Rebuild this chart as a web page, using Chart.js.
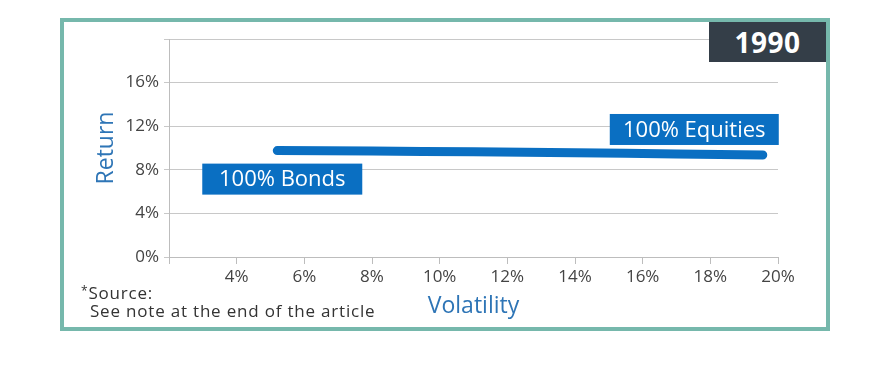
<!DOCTYPE html>
<html>
<head>
<meta charset="utf-8">
<script src="https://cdn.jsdelivr.net/npm/chart.js@4.4.0/dist/chart.umd.min.js"></script>
<style>
  html, body { margin: 0; padding: 0; background: #fff; }
  #wrap { position: relative; width: 890px; height: 367px; overflow: hidden; font-family: "Open Sans", sans-serif; }
  #myChart { position: absolute; left: 0; top: 0; }
  .frame { position: absolute; left: 60px; top: 18px; width: 762px; height: 305px; border: 4px solid #76b8ac; }
  .year { position: absolute; left: 709px; top: 22px; width: 117px; height: 40px; background: #343e48; color: #fff;
          font: bold 28px "Open Sans", sans-serif; line-height: 40px; text-align: center; letter-spacing: 0.5px; }
  .src { position: absolute; color: #333; font-size: 17px; letter-spacing: 0.8px; white-space: nowrap; }
</style>
</head>
<body>
<div id="wrap">
  <canvas id="myChart" width="890" height="367"></canvas>
  <div class="frame"></div>
  <div class="year">1990</div>
  <div class="src" style="left:81px; top:281px;"><span style="font-size:12px; vertical-align:4px;">*</span>Source:</div>
  <div class="src" style="left:90px; top:299px;">See note at the end of the article</div>
</div>
<script>
// 数据：波动率 / 收益率
const volatility = [5.2, 8, 11, 14, 17, 19.55];
const returns = [9.76, 9.72, 9.65, 9.56, 9.46, 9.36];
const xTicks = [2, 4, 6, 8, 10, 12, 14, 16, 18, 20];
const yTicks = [0, 4, 8, 12, 16, 20];
const endLabels = ['100% Bonds', '100% Equities'];

const blue = '#0a6fc2';

// 两端的蓝色标签
const endLabelPlugin = {
  id: 'endLabels',
  afterDatasetsDraw(chart) {
    const meta = chart.getDatasetMeta(0);
    const first = meta.data[0];
    const last = meta.data[meta.data.length - 1];
    const ctx = chart.ctx;
    ctx.save();
    ctx.font = '22px "Open Sans", sans-serif';
    ctx.textBaseline = 'middle';
    // 100% Bonds: 在起点左下方
    let x = first.x - 75, y = first.y + 13, w = 160, h = 31;
    ctx.fillStyle = blue;
    ctx.fillRect(x, y, w, h);
    ctx.fillStyle = '#fff';
    ctx.textAlign = 'center';
    ctx.fillText(endLabels[0], x + w / 2, y + h / 2 + 1);
    // 100% Equities: 在终点右上方
    w = 169; h = 31;
    x = last.x + 16 - w; y = last.y - 10 - h;
    ctx.fillStyle = blue;
    ctx.fillRect(x, y, w, h);
    ctx.fillStyle = '#fff';
    ctx.fillText(endLabels[1], x + w / 2, y + h / 2 + 1);
    ctx.restore();
  }
};

document.addEventListener('DOMContentLoaded', () => {
  const ctx = document.getElementById('myChart');
  new Chart(ctx, {
    type: 'scatter',
    data: {
      datasets: [{
        data: volatility.map((v, i) => ({ x: v, y: returns[i] })),
        showLine: true,
        borderColor: blue,
        borderWidth: 9,
        borderCapStyle: 'round',
        tension: 0.3,
        pointRadius: 0
      }]
    },
    options: {
      responsive: false,
      animation: false,
      layout: { padding: { top: 39, right: 112, bottom: 47, left: 0 } },
      plugins: { legend: { display: false }, tooltip: { enabled: false } },
      scales: {
        x: {
          type: 'linear',
          min: 2,
          max: 20,
          afterBuildTicks: (s) => { s.ticks = xTicks.map(v => ({ value: v })); },
          afterFit: (s) => { s.height = 63; },
          ticks: {
            padding: 3,
            color: '#444',
            font: { family: 'Open Sans', size: 17 },
            callback: (v) => v === 2 ? '' : v + '%'
          },
          grid: { drawOnChartArea: false, drawTicks: true, tickLength: 7, color: '#bdbdbd' },
          border: { color: '#bdbdbd' },
          title: {
            display: true,
            text: 'Volatility',
            color: '#2e75b6',
            font: { family: 'Open Sans', size: 23 },
            padding: { top: 0, bottom: 0 }
          }
        },
        y: {
          min: 0,
          max: 20,
          afterBuildTicks: (s) => { s.ticks = yTicks.map(v => ({ value: v })); },
          afterFit: (s) => { s.width = 169; },
          ticks: {
            padding: 5,
            color: '#444',
            font: { family: 'Open Sans', size: 17 },
            callback: (v) => v === 20 ? '' : v + '%'
          },
          grid: { color: '#c8c8c8', tickLength: 5 },
          border: { color: '#bdbdbd' },
          title: {
            display: true,
            text: 'Return',
            color: '#2e75b6',
            font: { family: 'Open Sans', size: 23 },
            padding: { top: 93, bottom: 0 }
          }
        }
      }
    },
    plugins: [endLabelPlugin]
  });
});
</script>
</body>
</html>
